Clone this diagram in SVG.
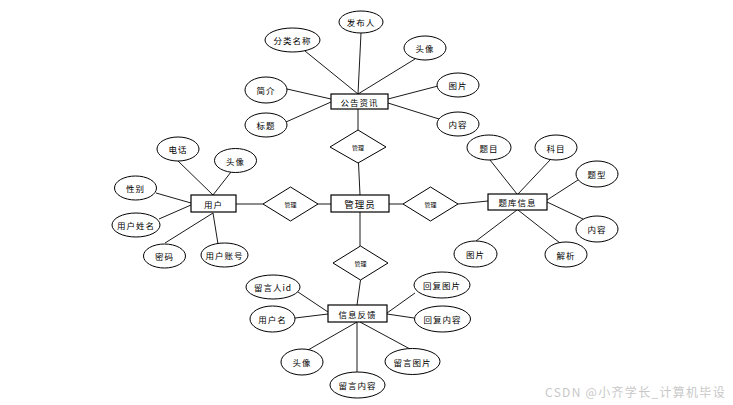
<svg xmlns="http://www.w3.org/2000/svg" width="733" height="405" viewBox="0 0 733 405">
<style>
.e{fill:#fff;stroke:#000;stroke-width:1}
.r{fill:#fff;stroke:#000;stroke-width:1.2}
.d{fill:#fff;stroke:#000;stroke-width:1}
.l{stroke:#000;stroke-width:0.9;fill:none}
text{font-family:"Noto Sans CJK SC","Liberation Sans",sans-serif;font-size:8.5px;fill:#000;text-anchor:middle;dominant-baseline:central;letter-spacing:1px}
.s{font-size:6px;letter-spacing:0}
.m{font-size:9.5px}
.w{font-size:12px;fill:#c8c8c8;text-anchor:start;letter-spacing:1.3px}
</style>
<rect width="733" height="405" fill="#fff"/>
<g id="connectors">
<line class="l" x1="305" y1="51" x2="358" y2="94"/>
<line class="l" x1="361" y1="33" x2="358" y2="94"/>
<line class="l" x1="415" y1="59" x2="358" y2="94"/>
<line class="l" x1="287" y1="89" x2="331" y2="99"/>
<line class="l" x1="286" y1="122" x2="331" y2="102"/>
<line class="l" x1="438" y1="86" x2="388" y2="99"/>
<line class="l" x1="439" y1="119" x2="388" y2="103"/>
<line class="l" x1="358" y1="109" x2="358" y2="130"/>
<line class="l" x1="358.5" y1="163" x2="360" y2="195"/>
<line class="l" x1="318" y1="204" x2="331" y2="204"/>
<line class="l" x1="389" y1="204" x2="403" y2="204"/>
<line class="l" x1="360" y1="212" x2="360" y2="246"/>
<line class="l" x1="236" y1="204" x2="263" y2="204"/>
<line class="l" x1="458" y1="204" x2="488" y2="201"/>
<line class="l" x1="178" y1="161" x2="213" y2="195"/>
<line class="l" x1="231" y1="172" x2="213" y2="195"/>
<line class="l" x1="156" y1="193" x2="191" y2="203"/>
<line class="l" x1="159" y1="219" x2="191" y2="205"/>
<line class="l" x1="165" y1="243" x2="213" y2="213"/>
<line class="l" x1="218" y1="244" x2="213" y2="213"/>
<line class="l" x1="490" y1="160" x2="517" y2="194"/>
<line class="l" x1="550" y1="160" x2="518" y2="194"/>
<line class="l" x1="578" y1="180" x2="547" y2="200"/>
<line class="l" x1="583" y1="219" x2="547" y2="202"/>
<line class="l" x1="476" y1="241" x2="517" y2="210"/>
<line class="l" x1="560" y1="243" x2="518" y2="210"/>
<line class="l" x1="360.5" y1="280" x2="357" y2="305"/>
<line class="l" x1="298" y1="292" x2="328" y2="312"/>
<line class="l" x1="295" y1="318" x2="328" y2="314"/>
<line class="l" x1="308" y1="350" x2="357" y2="322"/>
<line class="l" x1="357" y1="372" x2="357" y2="322"/>
<line class="l" x1="410" y1="349" x2="360" y2="322"/>
<line class="l" x1="415" y1="293" x2="387" y2="313"/>
<line class="l" x1="414" y1="318" x2="387" y2="314"/>
</g>
<g id="admin"><rect class="r" x="331" y="195" width="58" height="17"/><text class="m" x="360" y="203.5">管理员</text></g>
<g id="d-top"><polygon class="d" points="358,130 386,147 358,163 330,147"/><text class="s" x="358" y="147">管理</text></g>
<g id="d-left"><polygon class="d" points="290.5,187 318,204 290.5,221 263,204"/><text class="s" x="290.5" y="204">管理</text></g>
<g id="d-right"><polygon class="d" points="430.5,187 458,204 430.5,221 403,204"/><text class="s" x="430.5" y="204">管理</text></g>
<g id="d-bottom"><polygon class="d" points="360.5,246 388,263 360.5,280 333,263"/><text class="s" x="360.5" y="263">管理</text></g>
<g id="notice"><rect class="r" x="331" y="94" width="57" height="15"/><text x="359.5" y="101.5">公告资讯</text></g>
<g id="n-cat"><ellipse class="e" cx="292.5" cy="40" rx="27.5" ry="12"/><text x="292.5" y="40">分类名称</text></g>
<g id="n-pub"><ellipse class="e" cx="361" cy="22" rx="22" ry="11"/><text x="361" y="22">发布人</text></g>
<g id="n-avatar"><ellipse class="e" cx="425" cy="48" rx="21" ry="12"/><text x="425" y="48">头像</text></g>
<g id="n-img"><ellipse class="e" cx="458" cy="85" rx="21" ry="12"/><text x="458" y="85">图片</text></g>
<g id="n-content"><ellipse class="e" cx="458" cy="124" rx="21" ry="12"/><text x="458" y="124">内容</text></g>
<g id="n-intro"><ellipse class="e" cx="266" cy="90" rx="21" ry="13"/><text x="266" y="90">简介</text></g>
<g id="n-title"><ellipse class="e" cx="266" cy="125" rx="21" ry="12"/><text x="266" y="125">标题</text></g>
<g id="user"><rect class="r" x="191" y="195" width="45" height="17"/><text x="213.5" y="203.5">用户</text></g>
<g id="u-phone"><ellipse class="e" cx="178" cy="149" rx="21" ry="12"/><text x="178" y="149">电话</text></g>
<g id="u-avatar"><ellipse class="e" cx="235.5" cy="160.5" rx="21" ry="12"/><text x="235.5" y="160.5">头像</text></g>
<g id="u-sex"><ellipse class="e" cx="135.5" cy="188" rx="21" ry="12"/><text x="135.5" y="188">性别</text></g>
<g id="u-name"><ellipse class="e" cx="136" cy="225" rx="24" ry="12"/><text x="136" y="225">用户姓名</text></g>
<g id="u-pwd"><ellipse class="e" cx="164.5" cy="256" rx="21" ry="12"/><text x="164.5" y="256">密码</text></g>
<g id="u-acct"><ellipse class="e" cx="224.5" cy="255" rx="23.5" ry="12"/><text x="224.5" y="255">用户账号</text></g>
<g id="bank"><rect class="r" x="488" y="194" width="59" height="16"/><text x="517.5" y="202">题库信息</text></g>
<g id="b-q"><ellipse class="e" cx="489" cy="147.5" rx="22" ry="12.5"/><text x="489" y="147.5">题目</text></g>
<g id="b-subj"><ellipse class="e" cx="556" cy="147.5" rx="21" ry="12.5"/><text x="556" y="147.5">科目</text></g>
<g id="b-type"><ellipse class="e" cx="597" cy="174" rx="21" ry="13"/><text x="597" y="174">题型</text></g>
<g id="b-content"><ellipse class="e" cx="597" cy="229" rx="21" ry="13"/><text x="597" y="229">内容</text></g>
<g id="b-img"><ellipse class="e" cx="475.5" cy="254" rx="21.5" ry="13"/><text x="475.5" y="254">图片</text></g>
<g id="b-ana"><ellipse class="e" cx="566" cy="254.5" rx="21" ry="12.5"/><text x="566" y="254.5">解析</text></g>
<g id="feedback"><rect class="r" x="328" y="305" width="59" height="17"/><text x="357.5" y="313.5">信息反馈</text></g>
<g id="f-uid"><ellipse class="e" cx="273" cy="287" rx="27" ry="12"/><text x="273" y="287">留言人id</text></g>
<g id="f-uname"><ellipse class="e" cx="272.5" cy="319" rx="22.5" ry="13"/><text x="272.5" y="319">用户名</text></g>
<g id="f-avatar"><ellipse class="e" cx="302" cy="362" rx="21" ry="13"/><text x="302" y="362">头像</text></g>
<g id="f-msg"><ellipse class="e" cx="357.5" cy="385" rx="27.5" ry="13"/><text x="357.5" y="385">留言内容</text></g>
<g id="f-msgimg"><ellipse class="e" cx="412.5" cy="361.5" rx="27.5" ry="13"/><text x="412.5" y="361.5">留言图片</text></g>
<g id="f-repimg"><ellipse class="e" cx="442" cy="285" rx="28" ry="13"/><text x="442" y="285">回复图片</text></g>
<g id="f-rep"><ellipse class="e" cx="442.5" cy="319" rx="28" ry="13"/><text x="442.5" y="319">回复内容</text></g>
<text class="w" x="545" y="391">CSDN @小齐学长_计算机毕设</text>
</svg>
